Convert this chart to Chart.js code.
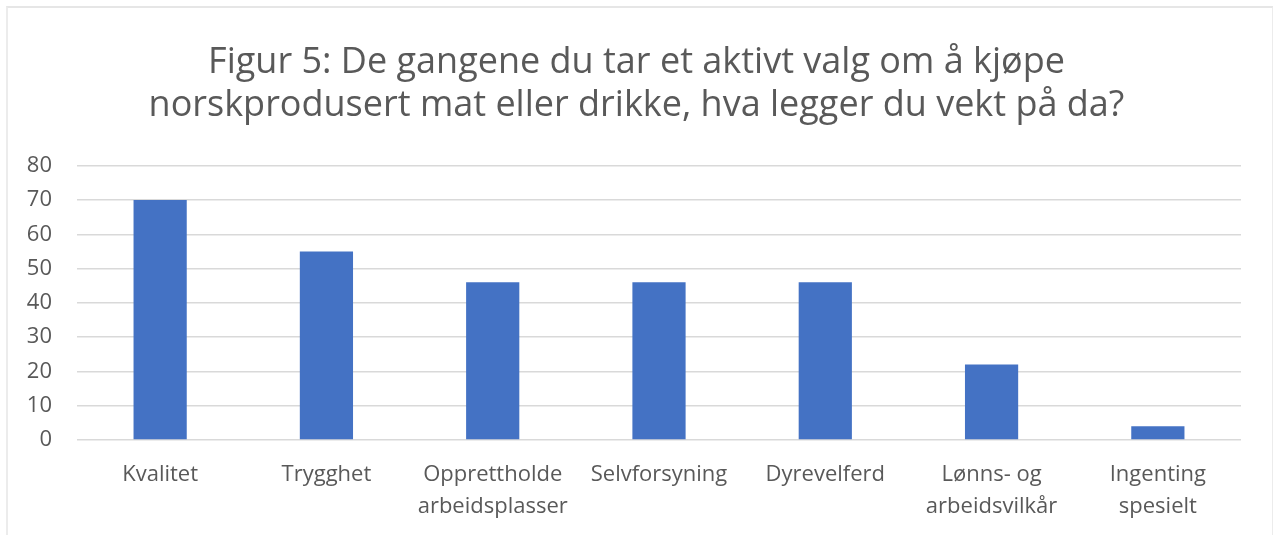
<!DOCTYPE html>
<html><head><meta charset="utf-8">
<script src="https://cdn.jsdelivr.net/npm/chart.js@4/dist/chart.umd.min.js"></script>
<style>
html,body{margin:0;padding:0;background:#fff;}
#wrap{position:absolute;left:0;top:0;width:1273px;height:535px;}
#frame{position:absolute;left:6px;top:6px;width:1264px;height:540px;border-top:2px solid #e6e6e6;border-left:2px solid #ececec;border-right:2px solid #ececec;pointer-events:none;}
</style></head>
<body>
<div id="wrap"><canvas id="c" width="1273" height="535"></canvas></div>
<div id="frame"></div>
<script>
const categories = [["Kvalitet"], ["Trygghet"], ["Opprettholde", "arbeidsplasser"], ["Selvforsyning"], ["Dyrevelferd"], ["Lønns- og", "arbeidsvilkår"], ["Ingenting", "spesielt"]];
const values = [70, 55, 46, 46, 46, 22, 4];
const yTicks = [0, 10, 20, 30, 40, 50, 60, 70, 80];
const titleLines = ["Figur 5: De gangene du tar et aktivt valg om å kjøpe", "norskprodusert mat eller drikke, hva legger du vekt på da?"];

const FONT = "'Open Sans', 'Liberation Sans', sans-serif";
new Chart(document.getElementById('c'), {
  type: 'bar',
  data: {
    labels: categories,
    datasets: [{ data: values, backgroundColor: '#4472c4', borderWidth: 0, barPercentage: 0.64, categoryPercentage: 0.5 }]
  },
  options: {
    responsive: false,
    animation: false,
    layout: { padding: { left: 0, right: 0, top: 0, bottom: 0 } },
    plugins: {
      legend: { display: false },
      tooltip: { enabled: false },
      title: {
        display: true,
        text: titleLines,
        color: '#595959',
        font: { family: FONT, size: 36, weight: 'normal', lineHeight: 1.19 },
        padding: { top: 41, bottom: 39 }
      }
    },
    scales: {
      x: {
        grid: { display: false, drawTicks: false },
        border: { display: false },
        ticks: { color: '#595959', font: { family: FONT, size: 22, lineHeight: 1.45 }, maxRotation: 0, autoSkip: false, padding: 19 },
        afterFit: s => { s.height = 95; }
      },
      y: {
        min: 0, max: 80,
        afterBuildTicks: s => { s.ticks = yTicks.map(v => ({ value: v })); },
        grid: { color: '#d9d9d9', lineWidth: 1.5, drawTicks: false },
        border: { display: false },
        ticks: { color: '#595959', font: { family: FONT, size: 22 }, padding: 25 },
        afterFit: s => { s.width = 77; }
      },
      yRight: {
        position: 'right',
        min: 0, max: 80,
        grid: { display: false, drawTicks: false },
        border: { display: false },
        ticks: { display: false },
        afterFit: s => { s.width = 32; }
      }
    }
  }
});
</script>
</body></html>
